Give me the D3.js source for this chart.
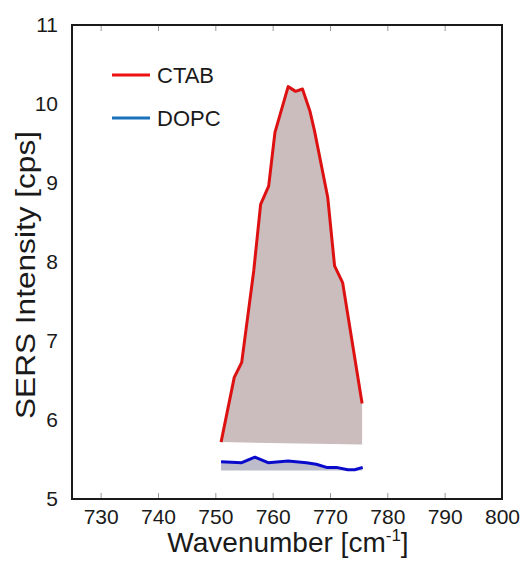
<!DOCTYPE html>
<html>
<head>
<meta charset="utf-8">
<script src="https://cdn.jsdelivr.net/npm/d3@7"></script>
<style>
  body { margin: 0; background: #fff; }
  text { font-family: "Liberation Sans", Arial, sans-serif; fill: #1a1a1a; }
</style>
</head>
<body>
<svg id="chart" width="523" height="561"></svg>
<script>
// values
const ctabX = [751.0, 753.3, 754.6, 756.7, 757.9, 759.3, 760.4, 762.7, 764.0, 765.2, 766.5, 767.3, 769.6, 770.8, 772.2, 775.6];
const ctabY = [5.72, 6.54, 6.73, 7.89, 8.73, 8.96, 9.64, 10.22, 10.16, 10.19, 9.91, 9.66, 8.82, 7.95, 7.74, 6.21];
const ctabBase = [5.72, 5.69];   // bottom edge of the shaded area, left / right

const dopcX = [751.0, 754.6, 756.9, 759.2, 762.7, 765.9, 767.6, 769.4, 771.1, 773.1, 774.3, 775.7];
const dopcY = [5.47, 5.46, 5.53, 5.46, 5.48, 5.46, 5.44, 5.40, 5.40, 5.37, 5.37, 5.40];
const dopcBase = 5.36;

const xTicks = [730, 740, 750, 760, 770, 780, 790, 800];
const yTicks = [5, 6, 7, 8, 9, 10, 11];
const seriesNames = ['CTAB', 'DOPC'];
const legendColors = ['#ee1111', '#1a72bd'];

const svg = d3.select('#chart');
const mLeft = 72, mRight = 502, mTop = 25, mBottom = 499;
const fontFam = '"Liberation Sans", Arial, sans-serif';

const x = d3.scaleLinear().domain([725, 800]).range([mLeft, mRight]);
const y = d3.scaleLinear().domain([5, 11]).range([mBottom, mTop]);
const line = d3.line().x(d => x(d[0])).y(d => y(d[1]));

// shaded areas
const ctabPts = ctabX.map((d, i) => [d, ctabY[i]]);
const ctabPoly = ctabPts.concat([[ctabX[ctabX.length - 1], ctabBase[1]], [ctabX[0], ctabBase[0]]]);
svg.append('path')
    .attr('d', line(ctabPoly) + 'Z')
    .attr('fill', '#cbbdbd');

const dopcPts = dopcX.map((d, i) => [d, dopcY[i]]);
const dopcPoly = dopcPts.concat([[dopcX[dopcX.length - 1], dopcBase], [dopcX[0], dopcBase]]);
svg.append('path')
    .attr('d', line(dopcPoly) + 'Z')
    .attr('fill', '#bcbccb');

// lines
svg.append('path')
    .attr('d', line(ctabPts))
    .attr('fill', 'none')
    .attr('stroke', '#dd1111')
    .attr('stroke-width', 3)
    .attr('stroke-linejoin', 'round');
svg.append('path')
    .attr('d', line(dopcPts))
    .attr('fill', 'none')
    .attr('stroke', '#0a0acc')
    .attr('stroke-width', 3)
    .attr('stroke-linejoin', 'round');

// x ticks inside, bottom and top
const tickLen = 6;
svg.append('g')
    .attr('transform', 'translate(0,' + mBottom + ')')
    .call(d3.axisBottom(x).tickValues(xTicks).tickSize(-tickLen).tickPadding(10))
    .call(g => g.select('.domain').remove())
    .call(g => g.selectAll('line').attr('stroke', '#999'))
    .call(g => g.selectAll('text').attr('font-size', 21).attr('fill', '#1a1a1a')
        .attr('font-family', fontFam));

svg.append('g')
    .attr('transform', 'translate(0,' + mTop + ')')
    .call(d3.axisTop(x).tickValues(xTicks).tickSize(-tickLen).tickFormat(''))
    .call(g => g.select('.domain').remove())
    .call(g => g.selectAll('line').attr('stroke', '#999'));

// y labels only
svg.append('g')
    .attr('transform', 'translate(' + mLeft + ',0)')
    .call(d3.axisLeft(y).tickValues(yTicks).tickSize(0).tickPadding(14).tickFormat(d3.format('d')))
    .call(g => g.select('.domain').remove())
    .call(g => g.selectAll('line').remove())
    .call(g => g.selectAll('text').attr('font-size', 21).attr('fill', '#1a1a1a')
        .attr('font-family', fontFam));

svg.append('rect')
    .attr('x', mLeft).attr('y', mTop)
    .attr('width', mRight - mLeft).attr('height', mBottom - mTop)
    .attr('fill', 'none')
    .attr('stroke', '#1a1a1a')
    .attr('stroke-width', 2);

// axis titles
svg.append('text')
    .attr('transform', 'translate(35,275) rotate(-90)')
    .attr('text-anchor', 'middle')
    .attr('font-size', 27)
    .attr('textLength', 288)
    .attr('lengthAdjust', 'spacingAndGlyphs')
    .text('SERS Intensity [cps]');

const xt = svg.append('text')
    .attr('x', 288)
    .attr('y', 552)
    .attr('text-anchor', 'middle')
    .attr('font-size', 28);
xt.append('tspan').text('Wavenumber [cm');
xt.append('tspan').attr('font-size', 17).attr('dy', -11).text('-1');
xt.append('tspan').attr('dy', 11).text(']');

// legend
const legend = svg.selectAll('.leg')
    .data(seriesNames)
    .enter()
        .append('g')
            .attr('transform', (d, i) => 'translate(112,' + (75 + i * 43) + ')');
legend.append('line')
    .attr('x1', 0).attr('x2', 38)
    .attr('stroke', (d, i) => legendColors[i])
    .attr('stroke-width', 3);
legend.append('text')
    .attr('x', 45).attr('y', 8)
    .attr('font-size', 22)
    .text(d => d);
</script>
</body>
</html>
